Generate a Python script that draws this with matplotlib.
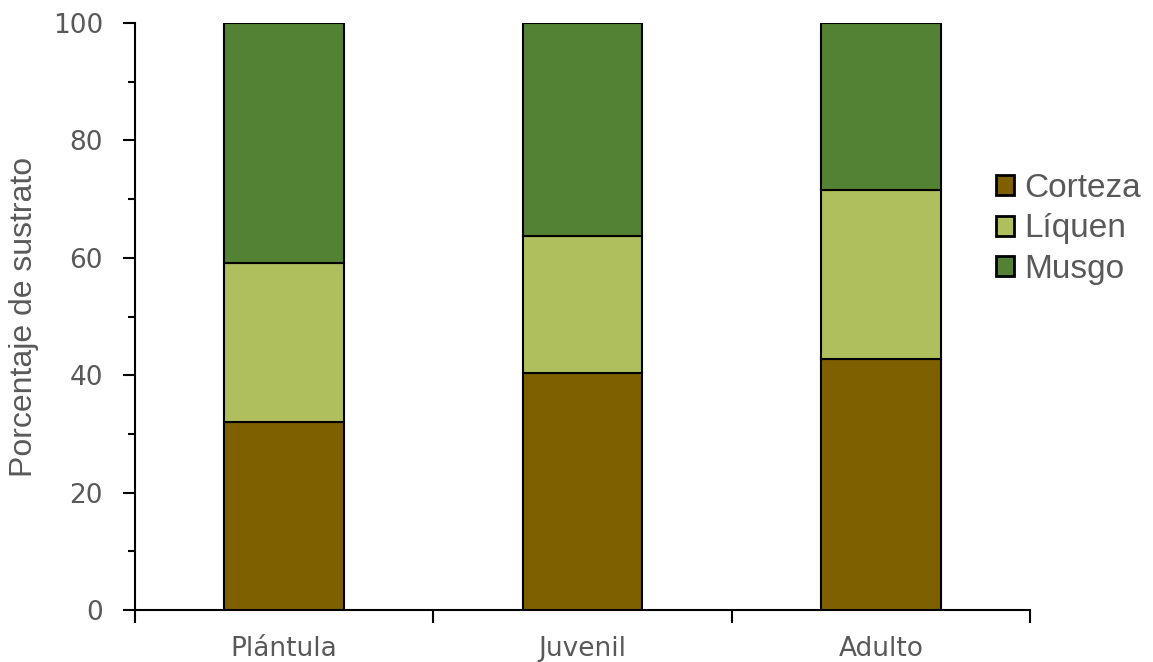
import matplotlib
matplotlib.use("Agg")
import matplotlib.pyplot as plt
from matplotlib.ticker import MultipleLocator
import numpy as np

categories = ["Plántula", "Juvenil", "Adulto"]
corteza = [32.1, 40.3, 42.8]
liquen = [27.0, 23.4, 28.7]
musgo = [40.9, 36.3, 28.5]
series_names = ["Corteza", "Líquen", "Musgo"]
colors = ["#7F6000", "#AFBF5E", "#548235"]

W, H = 1153, 662
fig = plt.figure(figsize=(W / 100, H / 100), dpi=100)
ax = fig.add_axes([135 / W, 1 - 610 / H, (1030 - 135) / W, (610 - 23) / H])

x = np.arange(len(categories))
bottom = np.zeros(len(categories))
for name, vals, c in zip(series_names, [corteza, liquen, musgo], colors):
    ax.bar(x, vals, width=0.4, bottom=bottom, color=c, edgecolor="black",
           linewidth=1.5, label=name, zorder=3)
    bottom += np.array(vals)

ax.set_xlim(-0.5, 2.5)
ax.set_ylim(0, 100)
ax.yaxis.set_major_locator(MultipleLocator(20))
ax.yaxis.set_minor_locator(MultipleLocator(10))
ax.set_xticks([-0.5, 0.5, 1.5, 2.5], minor=False)
ax.set_xticklabels([])
ax.set_xticks(x, minor=True)
ax.set_xticklabels(categories, minor=True)

for s in ["top", "right"]:
    ax.spines[s].set_visible(False)
for s in ["left", "bottom"]:
    ax.spines[s].set_linewidth(1.5)
    ax.spines[s].set_color("black")

ax.tick_params(axis="y", which="major", direction="out", length=9, width=1.5,
               labelsize=19, labelcolor="#595959", pad=14)
ax.tick_params(axis="y", which="minor", direction="out", length=5, width=1.5)
ax.tick_params(axis="x", which="major", direction="out", length=9, width=1.5)
ax.tick_params(axis="x", which="minor", length=0, labelsize=19,
               labelcolor="#595959", pad=19)

ax.set_ylabel("Porcentaje de sustrato", fontsize=23, color="#595959",
              family="Liberation Sans", labelpad=10)

leg = ax.legend(loc="center left", bbox_to_anchor=(996 / W, 1 - 229 / H),
                bbox_transform=fig.transFigure, frameon=False,
                prop={"family": "Liberation Sans", "size": 24},
                handlelength=0.55, handleheight=0.55, handletextpad=0.3,
                labelspacing=0.29, borderaxespad=0, borderpad=0)
for t in leg.get_texts():
    t.set_color("#595959")
for h in leg.legend_handles:
    h.set_linewidth(2)

fig.savefig("out.png", dpi=100)
